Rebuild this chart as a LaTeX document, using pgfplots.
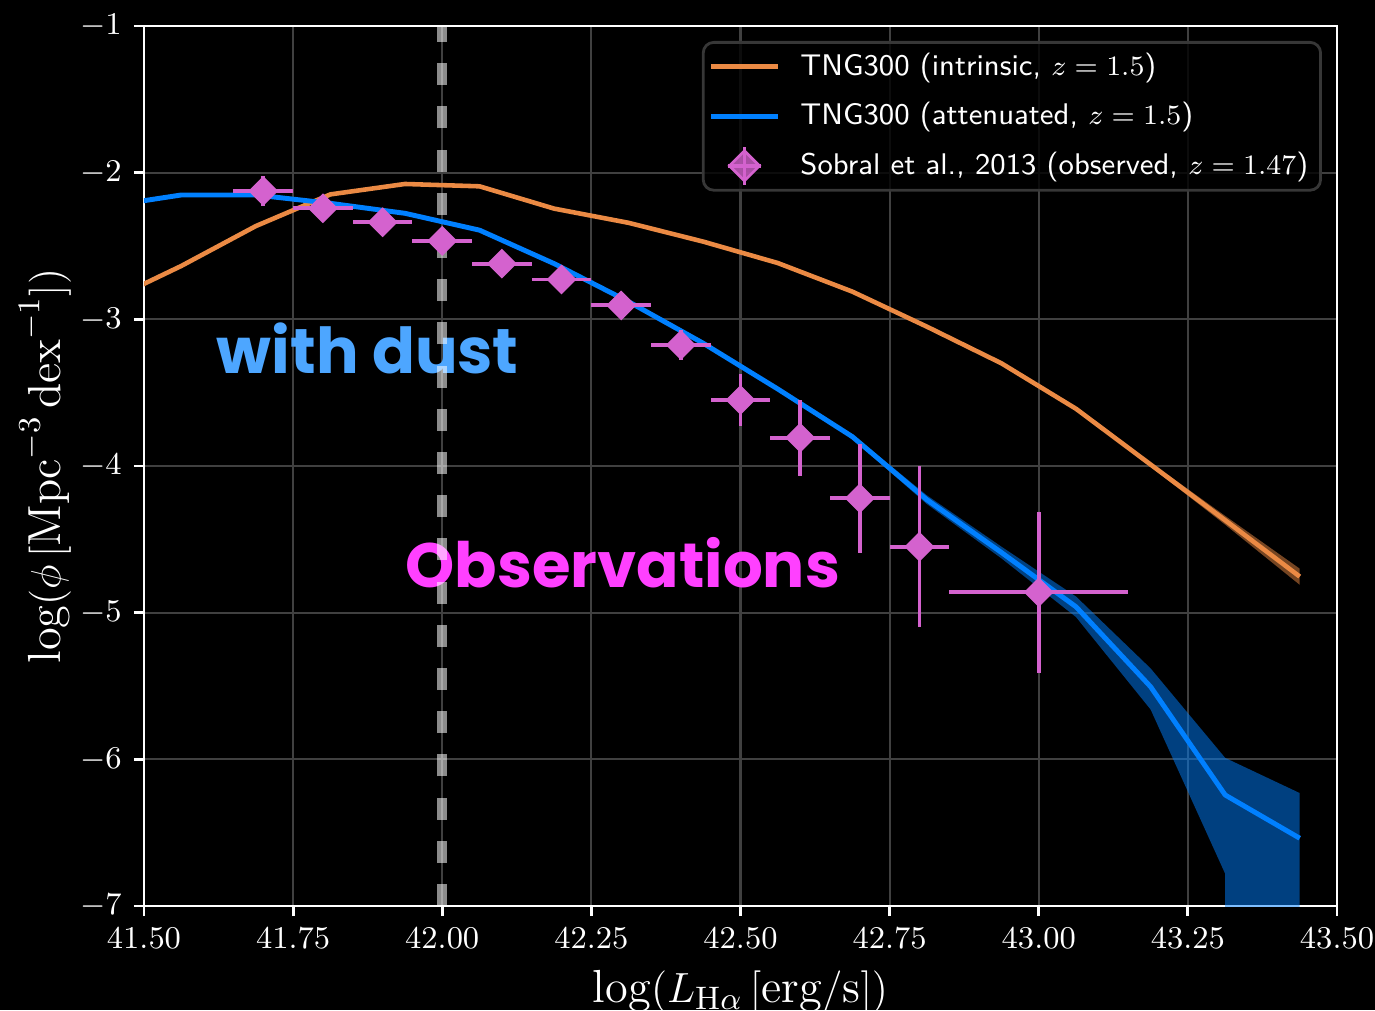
\documentclass[border=0pt]{standalone}
\usepackage{pgfplots}
\pgfplotsset{compat=1.18}
\usepackage{pgfplotstable}
\usepackage{fontspec}
\newfontfamily\annfont{Poppins}
\definecolor{orangec}{RGB}{235,138,68}
\definecolor{bluec}{RGB}{0,128,255}
\definecolor{orchidc}{RGB}{212,98,206}
\definecolor{withdustc}{RGB}{77,166,255}
\definecolor{obsc}{RGB}{255,64,255}
\definecolor{gridc}{RGB}{64,64,64}
\definecolor{legframe}{RGB}{55,55,55}

\pgfplotsset{
  linelegend/.style={legend image code/.code={\draw[##1, sharp corners] (0cm,0cm) -- (0.67cm,0cm);}},
  obslegend/.style={legend image code/.code={
    \draw[orchidc, line width=1.1pt, sharp corners] (0.335cm,-0.19cm) -- (0.335cm,0.19cm);
    \draw[orchidc, line width=1.1pt, sharp corners] (0.17cm,0cm) -- (0.5cm,0cm);
    \fill[orchidc, sharp corners] (0.335cm,0.15cm) -- (0.485cm,0cm) -- (0.335cm,-0.15cm) -- (0.185cm,0cm) -- cycle;
  }},
}

\pgfplotstableread{
x y
41.4375 -2.88
41.5625 -2.636
41.6875 -2.364
41.8125 -2.148
41.9375 -2.077
42.0625 -2.093
42.1875 -2.245
42.3125 -2.342
42.4375 -2.470
42.5625 -2.616
42.6875 -2.811
42.8125 -3.05
42.9375 -3.30
43.0625 -3.61
43.1875 -3.99
43.3125 -4.37
43.4375 -4.754
}\intrinsic

\pgfplotstableread{
x y
41.4375 -2.23
41.5625 -2.152
41.6875 -2.152
41.8125 -2.209
41.9375 -2.277
42.0625 -2.392
42.1875 -2.62
42.3125 -2.88
42.4375 -3.163
42.5625 -3.475
42.6875 -3.80
42.8125 -4.23
42.9375 -4.59
43.0625 -4.96
43.1875 -5.505
43.3125 -6.243
43.4375 -6.538
}\attenuated

\pgfplotstableread{
x y ex ey
41.7 -2.125 0.05 0.10
41.8 -2.243 0.05 0.085
41.9 -2.338 0.05 0.05
42.0 -2.465 0.05 0.06
42.1 -2.620 0.05 0.06
42.2 -2.728 0.05 0.07
42.3 -2.905 0.05 0.06
42.4 -3.175 0.05 0.10
42.5 -3.550 0.05 0.18
42.6 -3.807 0.05 0.26
42.7 -4.220 0.05 0.37
42.8 -4.550 0.05 0.55
43.0 -4.861 0.15 0.55
}\sobral

\begin{document}
\begin{tikzpicture}
\fill[black] (-1.44cm,-1.04cm) rectangle (12.31cm,9.06cm);
\useasboundingbox (-1.44cm,-1.04cm) rectangle (12.31cm,9.06cm);
\begin{axis}[
  at={(0,0)}, anchor=south west,
  scale only axis, width=11.93cm, height=8.8cm,
  xmin=41.5, xmax=43.5, ymin=-7, ymax=-1,
  xtick={41.5,41.75,42,42.25,42.5,42.75,43,43.25,43.5},
  ytick={-7,-6,-5,-4,-3,-2,-1},
  xticklabel style={/pgf/number format/.cd, fixed, fixed zerofill, precision=2, 1000 sep={}},
  tick label style={text=white, font=\fontsize{8.7}{10}\selectfont},
  axis line style={white, line width=0.8pt},
  tick style={white, line width=0.8pt},
  major tick length=1mm,
  tick align=outside,
  xtick pos=bottom, ytick pos=left,
  grid=major,
  major grid style={gridc, line width=0.6pt},
  xlabel={$\log(L_{\mathrm{H}\alpha}\,[\mathrm{erg/s}])$},
  ylabel={$\log(\phi\,[\mathrm{Mpc}^{-3}\,\mathrm{dex}^{-1}])$},
  label style={text=white, font=\fontsize{13.2}{15}\selectfont},
  xlabel style={yshift=0.8pt},
  ylabel style={yshift=-4.3pt},
  legend style={
    at={(rel axis cs:0.9874,0.983)}, anchor=north east,
    fill=black, fill opacity=0.8, draw opacity=1, text opacity=1,
    draw=legframe, line width=0.8pt, rounded corners=3pt,
    text=white, font=\sffamily\fontsize{8.5}{10}\selectfont,
    inner xsep=1.5pt, inner ysep=1pt,
    row sep=2.2pt,
    /tikz/every odd column/.append style={column sep=1.3mm},
  },
  legend cell align=left,
]
% bands
\addplot[fill=bluec, fill opacity=0.5, draw=none, forget plot] coordinates {
 (42.5625,-3.470) (42.6875,-3.785) (42.8125,-4.20) (42.9375,-4.55) (43.0625,-4.89) (43.1875,-5.38) (43.3125,-5.99) (43.4375,-6.23)
 (43.4375,-8) (43.3125,-8) (43.3125,-6.78) (43.1875,-5.66) (43.0625,-5.03) (42.9375,-4.63) (42.8125,-4.26) (42.6875,-3.815) (42.5625,-3.480)
} -- cycle;
\addplot[fill=orangec, fill opacity=0.5, draw=none, forget plot] coordinates {
 (43.0625,-3.60) (43.1875,-3.975) (43.3125,-4.34) (43.4375,-4.70)
 (43.4375,-4.81) (43.3125,-4.40) (43.1875,-4.005) (43.0625,-3.62)
} -- cycle;
\addplot[orangec, line width=1.3pt, line join=round, linelegend] table[x=x,y=y] {\intrinsic};
\addlegendentry{TNG300 (intrinsic, $z=1.5$)}
\addplot[bluec, line width=1.4pt, line join=round, linelegend] table[x=x,y=y] {\attenuated};
\addlegendentry{TNG300 (attenuated, $z=1.5$)}
\addplot[only marks, mark=square*, mark size=2.8pt, forget plot,
  mark options={rotate=45, fill=orchidc, draw=orchidc},
  error bars/.cd, x dir=both, x explicit, y dir=both, y explicit,
  error bar style={orchidc, line width=1.1pt}, error mark=none]
  table[x=x, y=y, x error=ex, y error=ey] {\sobral};
\addlegendimage{obslegend}
\addlegendentry{Sobral et al., 2013 (observed, $z=1.47$)}
% annotations
\node[anchor=base west, text=withdustc, inner sep=0pt,
  font=\annfont\bfseries\fontsize{18}{20}\selectfont] at (axis cs:41.621,-3.366) {with dust};
\node[anchor=base west, text=obsc, inner sep=0pt,
  font=\annfont\bfseries\fontsize{17.8}{20}\selectfont] at (axis cs:41.9376,-4.825) {Observations};
% dashed vertical line
\addplot[white, draw opacity=0.55, line width=2.8pt, line cap=butt,
  dash pattern=on 2.2mm off 2.12mm, forget plot] coordinates {(42,-7) (42,-1)};
\end{axis}
\end{tikzpicture}
\end{document}
